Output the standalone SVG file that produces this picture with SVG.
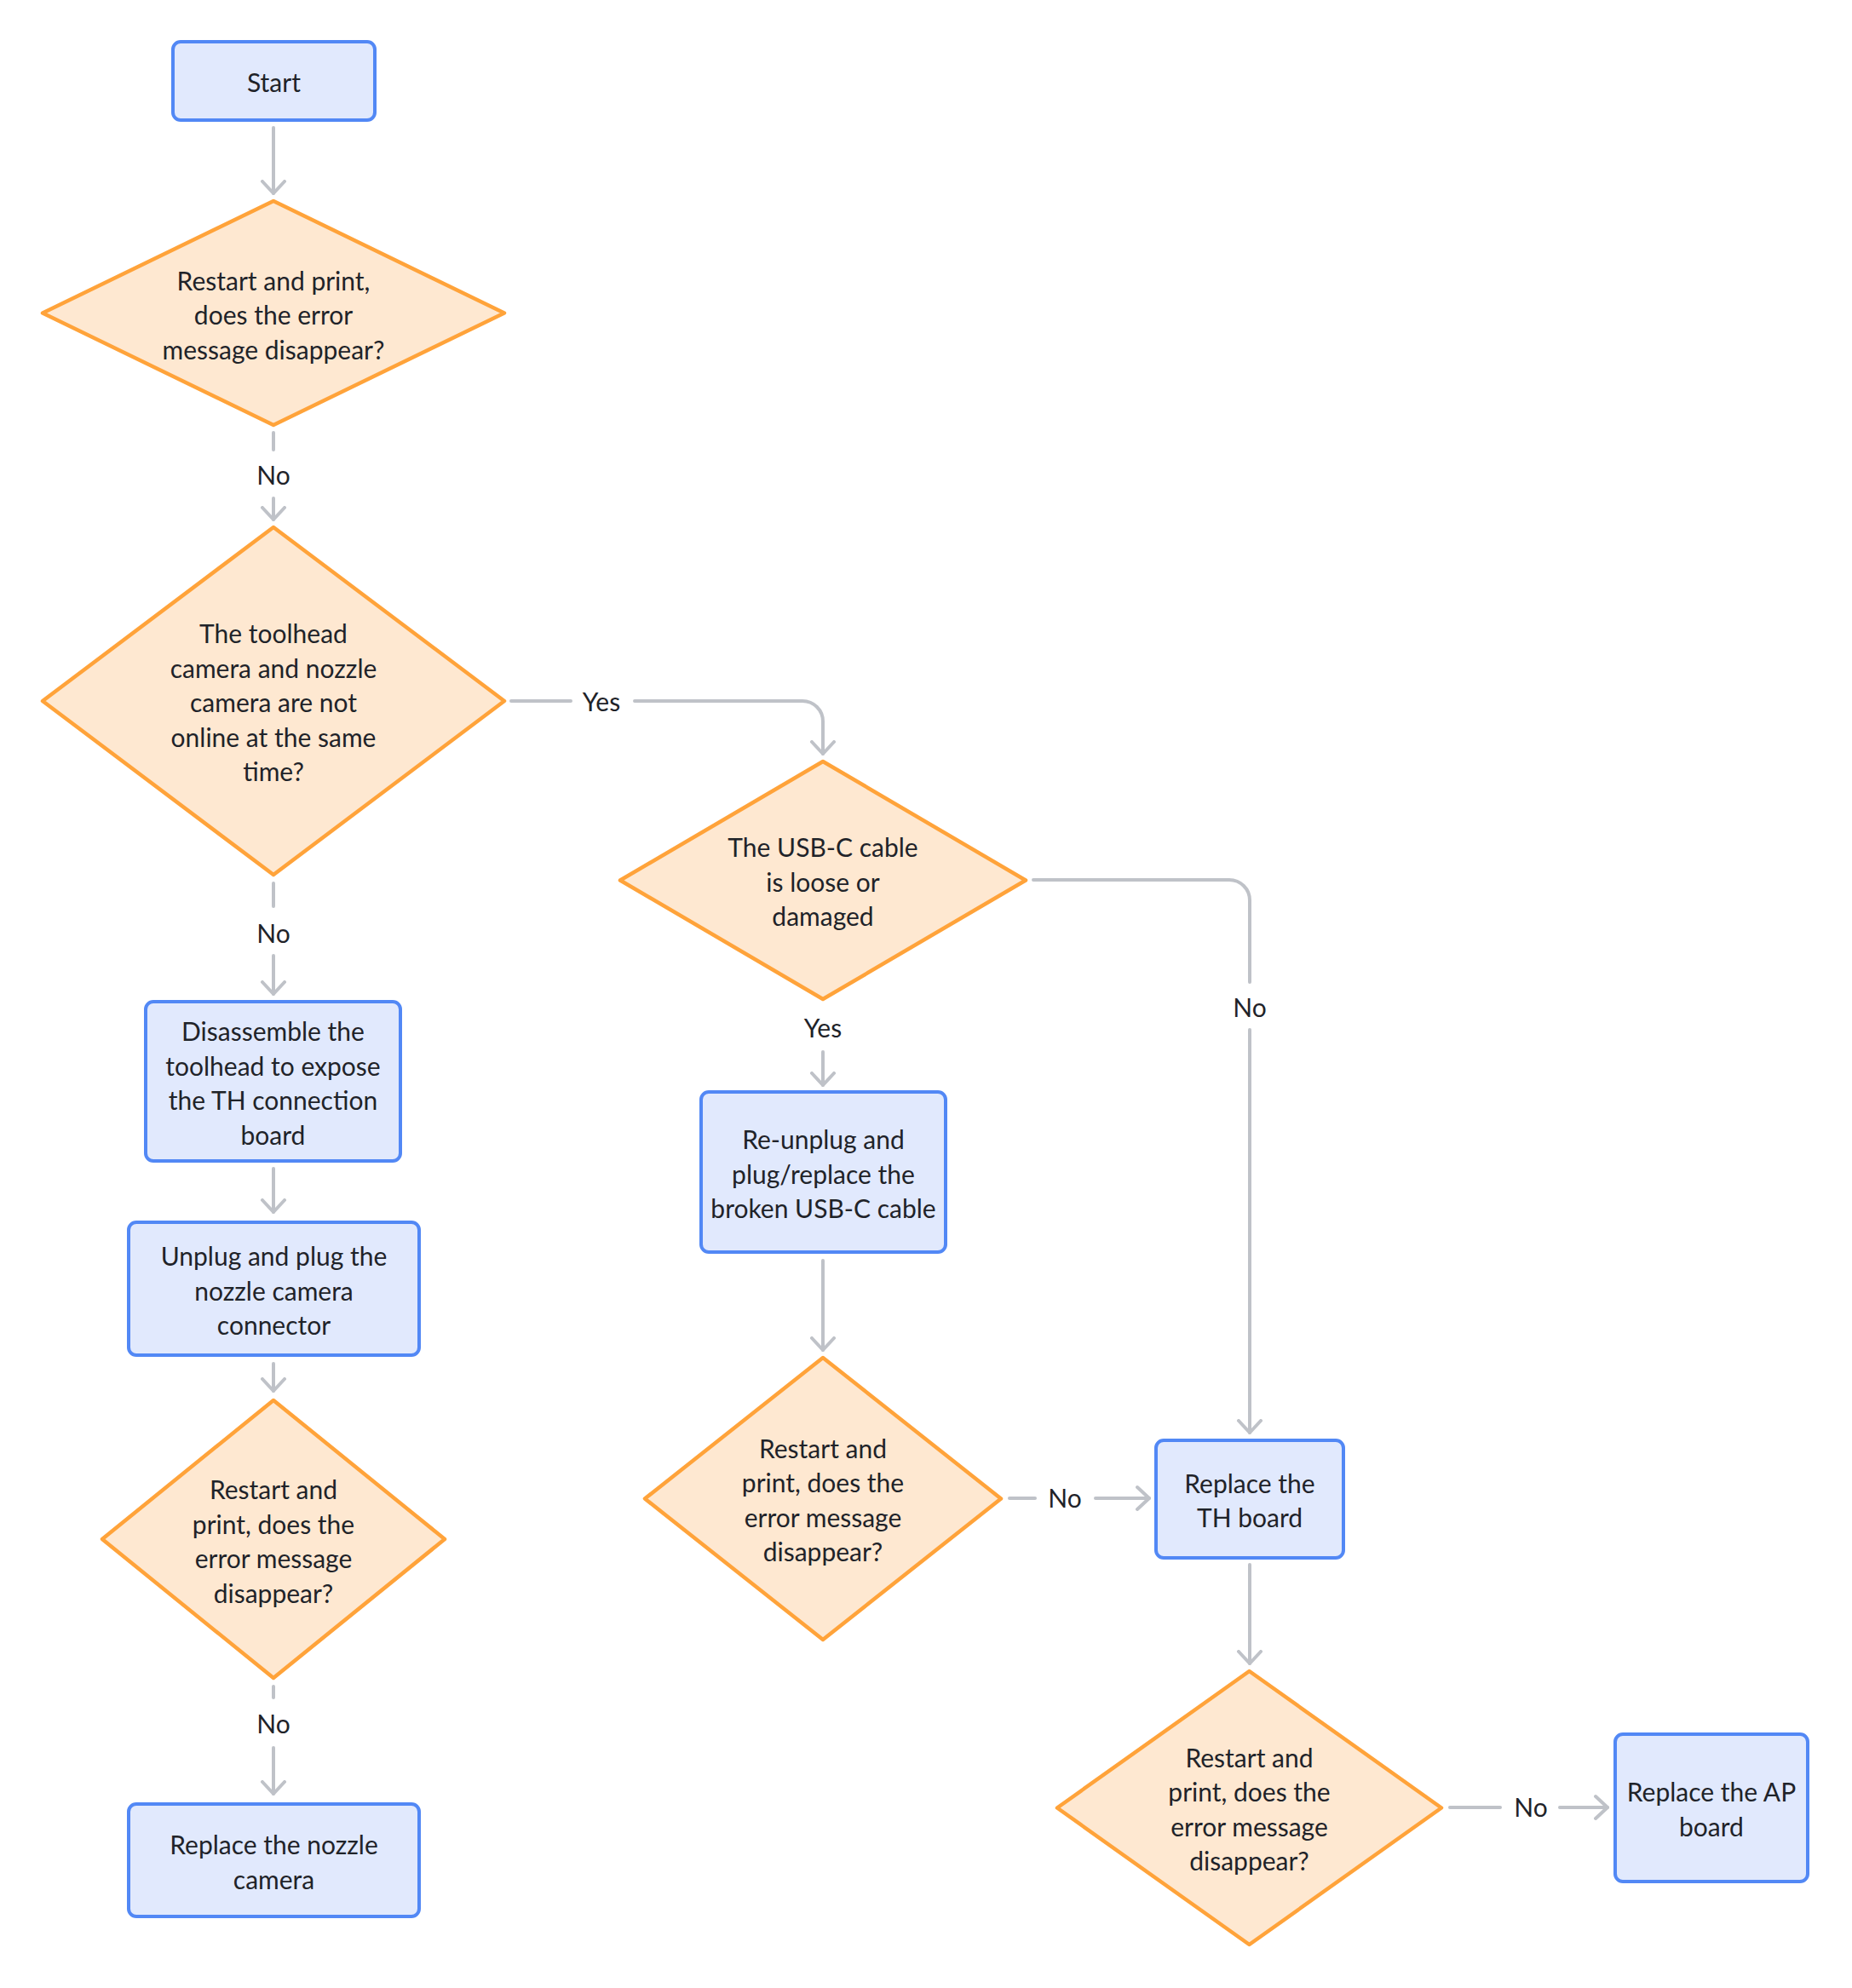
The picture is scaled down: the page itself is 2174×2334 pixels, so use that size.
<svg xmlns="http://www.w3.org/2000/svg" width="2174" height="2334" viewBox="0 0 2174 2334">
<defs>
<style>
.box{fill:#E1E9FD;stroke:#5288F5;stroke-width:4}
.dia{fill:#FEE8D1;stroke:#FFA33A;stroke-width:4.5;stroke-linejoin:round}
.t{font-family:Lato,"Liberation Sans",sans-serif;font-size:30px;fill:#1F2329;text-anchor:middle}
.c{fill:none;stroke:#BFC2C8;stroke-width:4;stroke-linecap:round}
</style>
<marker id="arr" viewBox="-16 -16 20 32" refX="0" refY="0" markerWidth="20" markerHeight="32" orient="auto" markerUnits="userSpaceOnUse">
<path d="M-14,-13 L0,0 L-14,13" fill="none" stroke="#BFC2C8" stroke-width="4" stroke-linecap="round" stroke-linejoin="round"/>
</marker>
</defs>
<rect width="2174" height="2334" fill="#FFFFFF"/>

<g id="connectors">
<line class="c" x1="321" y1="150" x2="321" y2="227" marker-end="url(#arr)"/>
<line class="c" x1="321" y1="508" x2="321" y2="528"/>
<line class="c" x1="321" y1="585" x2="321" y2="610" marker-end="url(#arr)"/>
<line class="c" x1="600" y1="823" x2="670" y2="823"/>
<path class="c" d="M745,823 H942 A24,24 0 0 1 966,847 V885" marker-end="url(#arr)"/>
<line class="c" x1="966" y1="1235" x2="966" y2="1274" marker-end="url(#arr)"/>
<path class="c" d="M1213,1033 H1443 A24,24 0 0 1 1467,1057 V1153"/>
<line class="c" x1="1467" y1="1209" x2="1467" y2="1682" marker-end="url(#arr)"/>
<line class="c" x1="966" y1="1480" x2="966" y2="1585" marker-end="url(#arr)"/>
<line class="c" x1="1185" y1="1759" x2="1215" y2="1759"/>
<line class="c" x1="1286" y1="1759" x2="1349" y2="1759" marker-end="url(#arr)"/>
<line class="c" x1="1467" y1="1837" x2="1467" y2="1953" marker-end="url(#arr)"/>
<line class="c" x1="1702" y1="2122" x2="1761" y2="2122"/>
<line class="c" x1="1831" y1="2122" x2="1887" y2="2122" marker-end="url(#arr)"/>
<line class="c" x1="321" y1="1037" x2="321" y2="1064"/>
<line class="c" x1="321" y1="1122" x2="321" y2="1167" marker-end="url(#arr)"/>
<line class="c" x1="321" y1="1372" x2="321" y2="1423" marker-end="url(#arr)"/>
<line class="c" x1="321" y1="1601" x2="321" y2="1633" marker-end="url(#arr)"/>
<line class="c" x1="321" y1="1980" x2="321" y2="1993"/>
<line class="c" x1="321" y1="2052" x2="321" y2="2106" marker-end="url(#arr)"/>
<text class="t" x="321" y="569">No</text>
<text class="t" x="706" y="835">Yes</text>
<text class="t" x="966" y="1218">Yes</text>
<text class="t" x="1467" y="1194">No</text>
<text class="t" x="1250" y="1770">No</text>
<text class="t" x="1797" y="2133">No</text>
<text class="t" x="321" y="1107">No</text>
<text class="t" x="321" y="2035">No</text>
</g>

<g id="start">
<rect class="box" x="203" y="49" width="237" height="92" rx="9"/>
<text class="t" x="321.5" y="108">Start</text>
</g>

<g id="d1">
<polygon class="dia" points="321,236 592,367.5 321,499 50,367.5"/>
<text class="t"><tspan x="321" y="340.5">Restart and print,</tspan><tspan x="321" y="381">does the error</tspan><tspan x="321" y="421.5">message disappear?</tspan></text>
</g>

<g id="d2">
<polygon class="dia" points="321,619 592,823 321,1027 50,823"/>
<text class="t"><tspan x="321" y="755">The toolhead</tspan><tspan x="321" y="795.5">camera and nozzle</tspan><tspan x="321" y="836">camera are not</tspan><tspan x="321" y="876.5">online at the same</tspan><tspan x="321" y="917">time?</tspan></text>
</g>

<g id="d3">
<polygon class="dia" points="966,894 1204,1033.5 966,1173 728,1033.5"/>
<text class="t"><tspan x="966" y="1006">The USB-C cable</tspan><tspan x="966" y="1046.5">is loose or</tspan><tspan x="966" y="1087">damaged</tspan></text>
</g>

<g id="disassemble">
<rect class="box" x="171" y="1176" width="299" height="187" rx="9"/>
<text class="t"><tspan x="320.5" y="1222">Disassemble the</tspan><tspan x="320.5" y="1262.5">toolhead to expose</tspan><tspan x="320.5" y="1303">the TH connection</tspan><tspan x="320.5" y="1343.5">board</tspan></text>
</g>

<g id="unplug">
<rect class="box" x="151" y="1435" width="341" height="156" rx="9"/>
<text class="t"><tspan x="321.5" y="1486">Unplug and plug the</tspan><tspan x="321.5" y="1526.5">nozzle camera</tspan><tspan x="321.5" y="1567">connector</tspan></text>
</g>

<g id="d6">
<polygon class="dia" points="321,1644 522,1807 321,1970 120,1807"/>
<text class="t"><tspan x="321" y="1760">Restart and</tspan><tspan x="321" y="1800.5">print, does the</tspan><tspan x="321" y="1841">error message</tspan><tspan x="321" y="1881.5">disappear?</tspan></text>
</g>

<g id="nozzle">
<rect class="box" x="151" y="2118" width="341" height="132" rx="9"/>
<text class="t"><tspan x="321.5" y="2177">Replace the nozzle</tspan><tspan x="321.5" y="2217.5">camera</tspan></text>
</g>

<g id="reunplug">
<rect class="box" x="823" y="1282" width="287" height="188" rx="9"/>
<text class="t"><tspan x="966.5" y="1349">Re-unplug and</tspan><tspan x="966.5" y="1389.5">plug/replace the</tspan><tspan x="966.5" y="1430">broken USB-C cable</tspan></text>
</g>

<g id="d4">
<polygon class="dia" points="966,1594 1175,1759.5 966,1925 757,1759.5"/>
<text class="t"><tspan x="966" y="1711.5">Restart and</tspan><tspan x="966" y="1752">print, does the</tspan><tspan x="966" y="1792.5">error message</tspan><tspan x="966" y="1833">disappear?</tspan></text>
</g>

<g id="th">
<rect class="box" x="1357" y="1691" width="220" height="138" rx="9"/>
<text class="t"><tspan x="1467" y="1752.5">Replace the</tspan><tspan x="1467" y="1793">TH board</tspan></text>
</g>

<g id="d5">
<polygon class="dia" points="1466.5,1962 1692,2122.5 1466.5,2283 1241,2122.5"/>
<text class="t"><tspan x="1466.5" y="2074.5">Restart and</tspan><tspan x="1466.5" y="2115">print, does the</tspan><tspan x="1466.5" y="2155.5">error message</tspan><tspan x="1466.5" y="2196">disappear?</tspan></text>
</g>

<g id="ap">
<rect class="box" x="1896" y="2036" width="226" height="173" rx="9"/>
<text class="t"><tspan x="2009" y="2115">Replace the AP</tspan><tspan x="2009" y="2155.5">board</tspan></text>
</g>
</svg>
